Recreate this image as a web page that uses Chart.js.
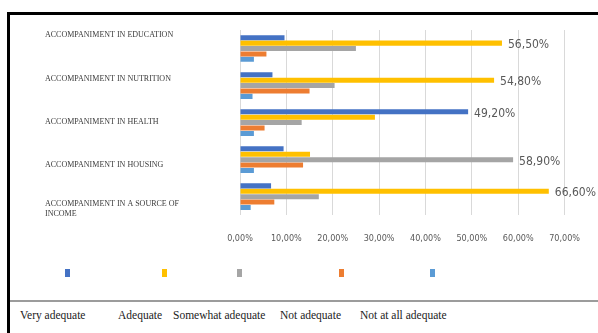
<!DOCTYPE html>
<html>
<head>
<meta charset="utf-8">
<script src="https://cdn.jsdelivr.net/npm/chart.js@4.4.0/dist/chart.umd.min.js"></script>
<style>
  body { margin: 0; background: #fff; width: 598px; height: 333px; overflow: hidden; position: relative; }
  #frame { position: absolute; left: 7px; top: 12px; width: 600px; height: 330px; border-left: 3px solid #000; border-top: 3px solid #000; }
  #wrap { position: absolute; left: 10px; top: 15px; width: 588px; height: 247px; }
  #rule { position: absolute; left: 10px; top: 300px; width: 588px; height: 2px; background: #9c9c9c; }
  .mark { position: absolute; top: 269px; width: 5px; height: 8px; }
  .name { position: absolute; top: 309px; font: 11.5px 'Liberation Serif', serif; color: #222; white-space: nowrap; }
</style>
</head>
<body>
<div id="frame"></div>
<div id="wrap"><canvas id="myChart"></canvas></div>
<div id="rule"></div>
<div id="legend"></div>
<script>
const categories = [
  'ACCOMPANIMENT IN EDUCATION',
  'ACCOMPANIMENT IN NUTRITION',
  'ACCOMPANIMENT IN HEALTH',
  'ACCOMPANIMENT IN HOUSING',
  ['ACCOMPANIMENT IN A SOURCE OF', 'INCOME']
];
const seriesNames = ['Very adequate', 'Adequate', 'Somewhat adequate', 'Not adequate', 'Not at all adequate'];
const seriesColors = ['#4472C4', '#FFC000', '#A5A5A5', '#ED7D31', '#5B9BD5'];

// percentages per category, top to bottom
const veryAdequate     = [9.6, 7.0, 49.2, 9.4, 6.7];
const adequate         = [56.5, 54.8, 29.1, 15.1, 66.6];
const somewhatAdequate = [25.0, 20.4, 13.3, 58.9, 17.0];
const notAdequate      = [5.7, 15.0, 5.3, 13.6, 7.4];
const notAtAllAdequate = [3.0, 2.7, 3.0, 3.0, 2.3];
const xTicks = [0, 10, 20, 30, 40, 50, 60, 70];

// legend row under the plot (markers and names sit in separate rows)
const legendMarkX = [65, 162, 237, 339, 430];
const legendNameX = [20, 118, 173, 280, 360];

const seriesValues = [veryAdequate, adequate, somewhatAdequate, notAdequate, notAtAllAdequate];

const pct = v => v.toFixed(2).replace('.', ',') + '%';
const narrow = "'DejaVu Sans Condensed', 'Liberation Sans', sans-serif";

const legend = document.getElementById('legend');
seriesNames.forEach((name, i) => {
  const m = document.createElement('div');
  m.className = 'mark';
  m.style.left = legendMarkX[i] + 'px';
  m.style.background = seriesColors[i];
  legend.appendChild(m);
  const t = document.createElement('div');
  t.className = 'name';
  t.style.left = legendNameX[i] + 'px';
  t.textContent = name;
  legend.appendChild(t);
});

// writes the value next to the longest bar of each category
const maxLabels = {
  id: 'maxLabels',
  afterDatasetsDraw(chart) {
    const c = chart.ctx;
    const sets = chart.data.datasets;
    c.save();
    c.font = '12px ' + narrow;
    c.fillStyle = '#595959';
    c.textBaseline = 'middle';
    categories.forEach((cat, i) => {
      let best = 0;
      sets.forEach((ds, d) => { if (ds.data[i] > sets[best].data[i]) best = d; });
      const bar = chart.getDatasetMeta(best).data[i];
      c.fillText(pct(sets[best].data[i]), bar.x + 6, bar.y + 2);
    });
    c.restore();
  }
};

const ctx = document.getElementById('myChart');

new Chart(ctx, {
  type: 'bar',
  data: {
    labels: categories,
    datasets: seriesNames.map((name, i) => ({
      label: name,
      data: seriesValues[i],
      backgroundColor: seriesColors[i],
      categoryPercentage: 0.73,
      barPercentage: 0.93
    }))
  },
  plugins: [maxLabels],
  options: {
    indexAxis: 'y',
    responsive: true,
    maintainAspectRatio: false,
    animation: false,
    layout: { padding: { left: 35, top: 15, right: 30, bottom: 0 } },
    plugins: {
      legend: { display: false },
      tooltip: { enabled: false }
    },
    scales: {
      x: {
        min: 0,
        max: 70,
        afterBuildTicks: axis => { axis.ticks = xTicks.map(v => ({ value: v })); },
        grid: { color: '#d9d9d9', drawTicks: false },
        border: { display: false },
        ticks: {
          padding: 18,
          color: '#595959',
          font: { family: narrow, size: 9 },
          callback: value => pct(value)
        }
      },
      y: {
        display: false
      },
      // label axis: spreads the category names a little wider than the bars
      names: {
        type: 'linear',
        position: 'left',
        reverse: true,
        offset: false,
        min: -0.116,
        max: 4.151,
        afterBuildTicks: axis => { axis.ticks = categories.map((c, i) => ({ value: i })); },
        afterFit: axis => { axis.width = 195; },
        grid: { display: false },
        border: { display: false },
        ticks: {
          crossAlign: 'far',
          autoSkip: false,
          color: '#3a3a3a',
          font: { family: "'Liberation Serif', serif", size: 8 },
          callback: value => categories[value]
        }
      }
    }
  }
});
</script>
</body>
</html>
